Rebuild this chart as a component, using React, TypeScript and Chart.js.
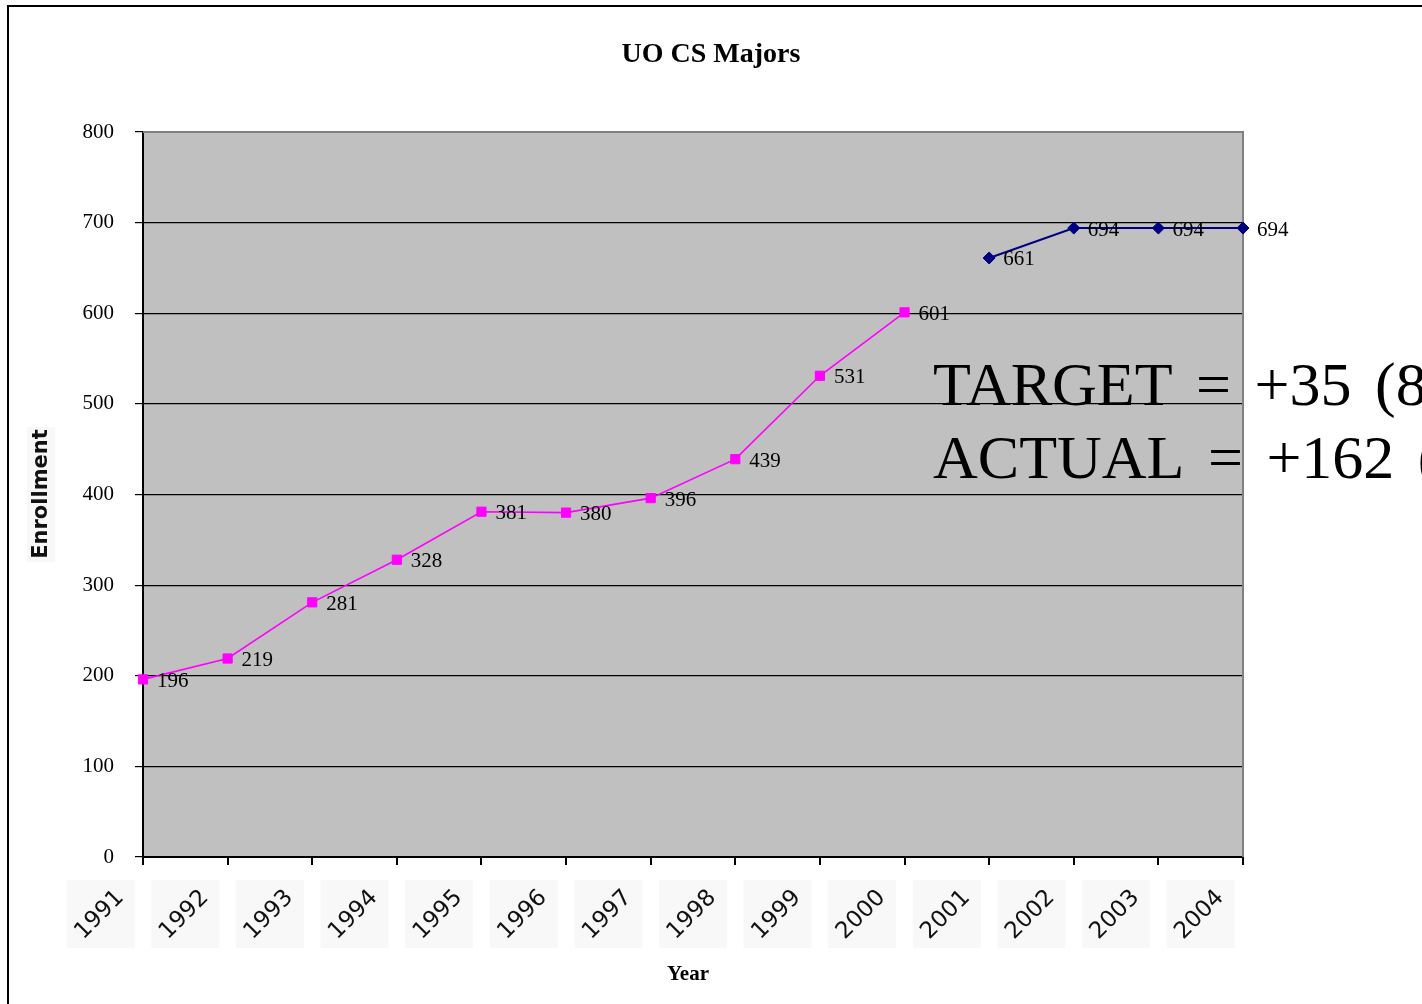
import React, { useEffect, useRef } from "react";
import { Chart, registerables } from "chart.js";

Chart.register(...registerables);

const years = ["1991", "1992", "1993", "1994", "1995", "1996", "1997", "1998", "1999", "2000", "2001", "2002", "2003", "2004"];
const actualMajors = [196, 219, 281, 328, 381, 380, 396, 439, 531, 601, null, null, null, null];
const projectedMajors = [null, null, null, null, null, null, null, null, null, null, 661, 694, 694, 694];
const yMin = 0;
const yMax = 800;
const yStep = 100;
const chartTitle = "UO CS Majors";
const xTitle = "Year";
const yTitle = "Enrollment";
const noteLines = ["TARGET = +35 (8", "ACTUAL = +162 ("];

const SERIF = '"Liberation Serif", "Times New Roman", serif';
const SANS = '"DejaVu Sans", sans-serif';

const decorPlugin = {
  id: "decor",
  beforeDraw(chart: any) {
    const { ctx, chartArea: a } = chart;
    ctx.save();
    ctx.fillStyle = "#ffffff";
    ctx.fillRect(0, 0, chart.width, chart.height);
    ctx.fillStyle = "#C0C0C0";
    ctx.fillRect(a.left, a.top, a.right - a.left, a.bottom - a.top);
    ctx.strokeStyle = "#000000";
    ctx.lineWidth = 2;
    ctx.beginPath();
    ctx.moveTo(8, chart.height + 10);
    ctx.lineTo(8, 6);
    ctx.lineTo(chart.width + 10, 6);
    ctx.stroke();
    ctx.restore();
  },
  beforeDatasetsDraw(chart: any) {
    const { ctx, chartArea: a } = chart;
    ctx.save();
    ctx.strokeStyle = "#808080";
    ctx.lineWidth = 2;
    ctx.beginPath();
    ctx.moveTo(a.left, a.top);
    ctx.lineTo(a.right, a.top);
    ctx.lineTo(a.right, a.bottom);
    ctx.stroke();
    ctx.restore();
  },
  afterDatasetsDraw(chart: any) {
    const { ctx } = chart;
    ctx.save();
    ctx.font = `21px ${SERIF}`;
    ctx.fillStyle = "#000000";
    ctx.textAlign = "left";
    ctx.textBaseline = "middle";
    chart.data.datasets.forEach((ds: any, di: number) => {
      const meta = chart.getDatasetMeta(di);
      meta.data.forEach((pt: any, i: number) => {
        const v = ds.data[i];
        if (v === null || v === undefined) return;
        ctx.fillText(String(v), pt.x + 14, pt.y + 2);
      });
    });
    ctx.restore();
  },
  afterDraw(chart: any) {
    const { ctx } = chart;
    const xs = chart.scales.x;
    ctx.save();
    // title
    ctx.fillStyle = "#000000";
    ctx.textAlign = "center";
    ctx.textBaseline = "alphabetic";
    ctx.font = `bold 28px ${SERIF}`;
    ctx.fillText(chartTitle, chart.width / 2, 62);
    // x title
    ctx.font = `bold 21px ${SERIF}`;
    ctx.fillText(xTitle, 688, 980);
    // y title
    ctx.save();
    ctx.fillStyle = "#F8F8F8";
    ctx.fillRect(27, 427, 28, 135);
    ctx.translate(41, 494);
    ctx.rotate(-Math.PI / 2);
    ctx.fillStyle = "#111111";
    ctx.font = `bold 21px ${SANS}`;
    ctx.textAlign = "center";
    ctx.textBaseline = "middle";
    ctx.fillText(yTitle, 0, 1);
    ctx.restore();
    // x labels
    const spacing = xs.getPixelForValue(1) - xs.getPixelForValue(0);
    years.forEach((lab, i) => {
      const cx = xs.getPixelForValue(i) - spacing / 2;
      const cy = 914;
      ctx.fillStyle = "#F8F8F8";
      ctx.fillRect(cx - 34, cy - 34, 68, 68);
      ctx.save();
      ctx.translate(cx - 1, cy + 1);
      ctx.rotate(-Math.PI / 4);
      ctx.fillStyle = "#111111";
      ctx.font = `23px ${SANS}`;
      ctx.textAlign = "center";
      ctx.textBaseline = "middle";
      ctx.fillText(lab, 0, 0);
      ctx.restore();
    });
    // note
    ctx.fillStyle = "#000000";
    ctx.textAlign = "left";
    ctx.textBaseline = "alphabetic";
    ctx.font = `62px ${SERIF}`;
    try {
      (ctx as any).wordSpacing = "8px";
    } catch (e) {}
    ctx.fillText(noteLines[0], 933, 405);
    ctx.fillText(noteLines[1], 933, 478);
    ctx.restore();
  },
};

export default function App() {
  const ref = useRef<HTMLCanvasElement | null>(null);
  useEffect(() => {
    if (!ref.current) return;
    const chart = new Chart(ref.current, {
      type: "line",
      data: {
        labels: years,
        datasets: [
          {
            label: "Majors",
            data: actualMajors,
            borderColor: "#FF00FF",
            backgroundColor: "#FF00FF",
            pointBackgroundColor: "#FF00FF",
            pointBorderColor: "#FF00FF",
            pointStyle: "rect",
            pointRadius: 6.5,
            pointBorderWidth: 1,
            borderWidth: 1.6,
            spanGaps: false,
            clip: false,
          },
          {
            label: "Projected",
            data: projectedMajors,
            borderColor: "#000080",
            backgroundColor: "#000080",
            pointBackgroundColor: "#000080",
            pointBorderColor: "#000080",
            pointStyle: "rectRot",
            pointRadius: 6,
            pointBorderWidth: 1,
            borderWidth: 2,
            spanGaps: false,
            clip: false,
          },
        ],
      },
      options: {
        responsive: false,
        animation: false,
        devicePixelRatio: 1,
        layout: { padding: { top: 132, right: 179, left: 0, bottom: 0 } },
        plugins: {
          legend: { display: false },
          title: { display: false },
          tooltip: { enabled: false },
        },
        scales: {
          x: {
            type: "category",
            offset: false,
            afterFit: (s: any) => {
              s.height = 147;
            },
            grid: {
              drawOnChartArea: false,
              drawTicks: true,
              tickLength: 8,
              tickColor: "#000000",
              lineWidth: 2,
            },
            border: { display: true, color: "#000000", width: 2 },
            ticks: { display: false },
          },
          y: {
            min: yMin,
            max: yMax,
            afterFit: (s: any) => {
              s.width = 143;
            },
            ticks: {
              stepSize: yStep,
              color: "#000000",
              padding: 21,
              font: { family: SERIF, size: 21 },
            },
            grid: {
              color: (c: any) => (c.tick && c.tick.value === yMax ? "#808080" : "#000000"),
              lineWidth: 1.2,
              tickLength: 8,
              tickColor: "#000000",
            },
            border: { display: true, color: "#000000", width: 2 },
          },
        },
      },
      plugins: [decorPlugin],
    } as any);
    return () => chart.destroy();
  }, []);
  return (
    <div style={{ position: "absolute", left: 0, top: 0, width: 1422, height: 1004, overflow: "hidden" }}>
      <canvas ref={ref} width={1422} height={1004} style={{ display: "block" }} />
    </div>
  );
}
